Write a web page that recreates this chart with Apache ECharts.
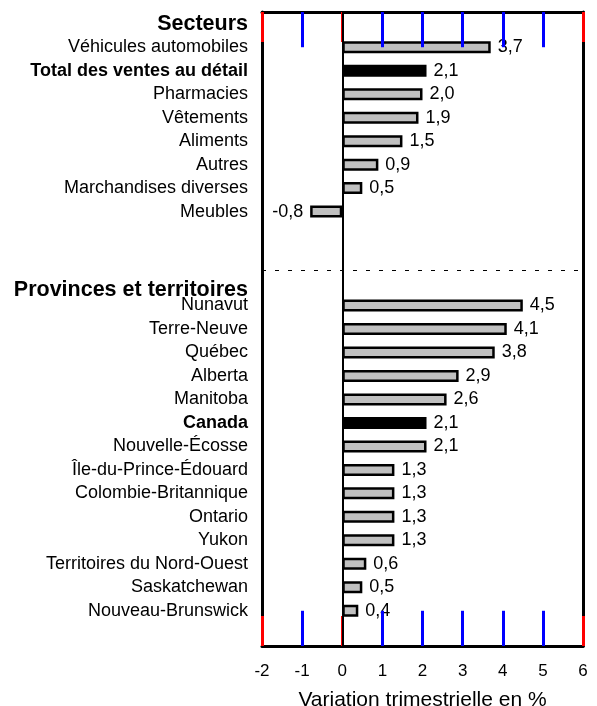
<!DOCTYPE html>
<html>
<head>
<meta charset="utf-8">
<script src="https://cdn.jsdelivr.net/npm/echarts@6/dist/echarts.min.js"></script>
<style>
  html, body { margin: 0; padding: 0; background: #fff; }
  #chart { width: 597px; height: 706px; }
</style>
</head>
<body>
<div id="chart"></div>
<script>
const sectorTitle = "Secteurs";
const sectors = ["Véhicules automobiles", "Total des ventes au détail", "Pharmacies", "Vêtements",
  "Aliments", "Autres", "Marchandises diverses", "Meubles"];
const sectorValues = [3.7, 2.1, 2.0, 1.9, 1.5, 0.9, 0.5, -0.8];

const provinceTitle = "Provinces et territoires";
const provinces = ["Nunavut", "Terre-Neuve", "Québec", "Alberta", "Manitoba", "Canada",
  "Nouvelle-Écosse", "Île-du-Prince-Édouard", "Colombie-Britannique", "Ontario", "Yukon",
  "Territoires du Nord-Ouest", "Saskatchewan", "Nouveau-Brunswick"];
const provinceValues = [4.5, 4.1, 3.8, 2.9, 2.6, 2.1, 2.1, 1.3, 1.3, 1.3, 1.3, 0.6, 0.5, 0.4];

const highlighted = ["Total des ventes au détail", "Canada"];
const xMin = -2, xMax = 6, xStep = 1;
const xTickValues = [-1, 1, 2, 3, 4, 5];
const axisTitle = "Variation trimestrielle en %";

const FONT = '"Liberation Sans", Arial, Helvetica, sans-serif';

const categories = [sectorTitle, ...sectors, "_gap1", "_gap2", provinceTitle, ...provinces, "_gap3"];
const values = ["-", ...sectorValues, "-", "-", "-", ...provinceValues, "-"];
const separatorAt = categories.indexOf(provinceTitle) - 0.5;
const slotTop = -0.5;
const slotBottom = categories.length - 0.5;
const tickLen = 1.5; // debug: long ticks

const barData = categories.map((name, i) => {
  const v = values[i];
  if (v === "-") return "-";
  const item = { value: v };
  if (highlighted.includes(name)) item.itemStyle = { color: "#000" };
  if (v < 0) item.label = { position: "left" };
  return item;
});

const tickLines = [];
xTickValues.forEach((v) => {
  tickLines.push([{ coord: [v, slotTop] }, { coord: [v, slotTop + tickLen] }]);
  tickLines.push([{ coord: [v, slotBottom - tickLen] }, { coord: [v, slotBottom] }]);
});

const chart = echarts.init(document.getElementById("chart"));

const frameLine = { show: true, onZero: false, lineStyle: { color: "#000", width: 3 } };
const tickStyle = { show: true, inside: true, length: 30, lineStyle: { color: "#f00", width: 3 } };

chart.setOption({
  animation: false,
  textStyle: { fontFamily: FONT, color: "#000" },
  grid: { left: 262, right: 14, top: 12, bottom: 60, outerBoundsMode: "none", containLabel: false, show: false },
  xAxis: [
    {
      type: "value", min: xMin, max: xMax, interval: xStep, position: "bottom",
      axisLine: frameLine, axisTick: tickStyle, splitLine: { show: false },
      axisLabel: { fontSize: 17, color: "#000", margin: 17, fontFamily: FONT },
      name: axisTitle, nameLocation: "middle", nameGap: 44,
      nameTextStyle: { fontSize: 21, color: "#000", fontFamily: FONT },
    },
    {
      type: "value", min: xMin, max: xMax, interval: xStep, position: "top",
      axisLine: frameLine, axisTick: tickStyle, splitLine: { show: false }, axisLabel: { show: false },
    },
  ],
  yAxis: [
    {
      type: "category", inverse: true, position: "left", data: categories,
      axisLine: frameLine, axisTick: { show: false }, splitLine: { show: false },
      axisLabel: {
        interval: 0, margin: 14, fontSize: 18, color: "#000", fontFamily: FONT,
        formatter: (value) => {
          if (value.startsWith("_gap")) return "";
          if (value === sectorTitle) return "{h|" + value + "}";
          if (value === provinceTitle) return "{hp|" + value + "}";
          if (highlighted.includes(value)) return "{b|" + value + "}";
          return value;
        },
        rich: {
          h: { fontSize: 21.5, fontWeight: "bold", color: "#000", fontFamily: FONT },
          hp: { fontSize: 21.5, fontWeight: "bold", color: "#000", fontFamily: FONT, padding: [16, 0, 0, 0] },
          b: { fontSize: 18, fontWeight: "bold", color: "#000", fontFamily: FONT },
        },
      },
    },
    {
      type: "value", inverse: true, position: "right", min: slotTop, max: slotBottom,
      axisLine: frameLine, axisTick: { show: false }, axisLabel: { show: false }, splitLine: { show: false },
    },
  ],
  series: [
    {
      type: "bar", data: barData, barWidth: 12,
      itemStyle: { color: "#c0c0c0", borderColor: "#000", borderWidth: 2.5 },
      label: {
        show: true, position: "right", distance: 7, fontSize: 18, color: "#000", fontFamily: FONT,
        formatter: (p) => p.value.toFixed(1).replace(".", ","),
      },
      markLine: {
        silent: true, symbol: "none", label: { show: false },
        lineStyle: { color: "#000", width: 2, type: "solid" },
        data: [{ xAxis: 0 }],
      },
    },
    {
      type: "scatter", yAxisIndex: 1, data: [], silent: true,
      markLine: {
        silent: true, symbol: "none", label: { show: false },
        lineStyle: { color: "#000", width: 1, type: [4, 9] },
        data: [{ yAxis: separatorAt }],
      },
    },
    {
      type: "scatter", yAxisIndex: 1, data: [], silent: true,
      markLine: {
        silent: true, symbol: "none", label: { show: false },
        lineStyle: { color: "#00f", width: 3, type: "solid" },
        data: tickLines,
      },
    },
  ],
});
</script>
</body>
</html>
